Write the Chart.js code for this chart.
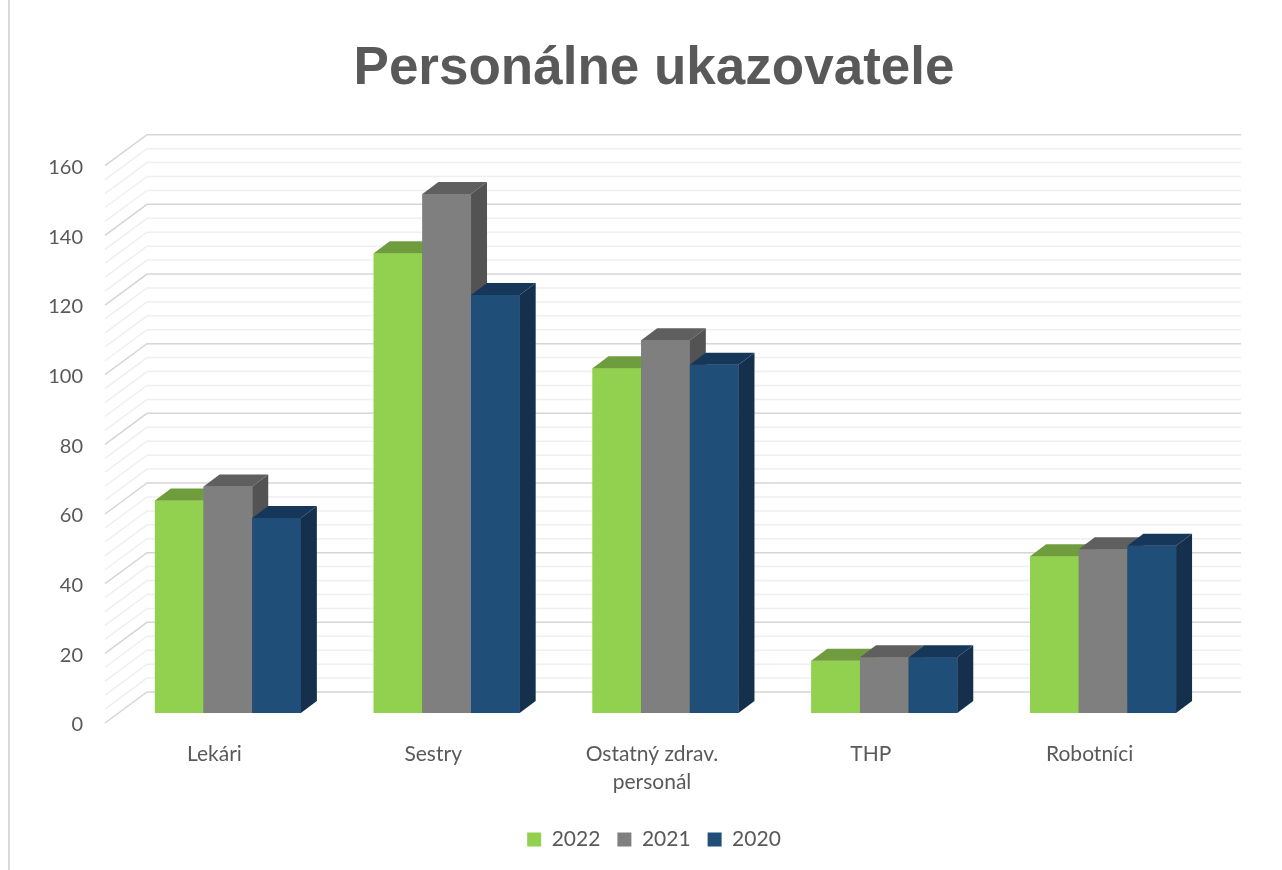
<!DOCTYPE html>
<html>
<head>
<meta charset="utf-8">
<script src="https://cdn.jsdelivr.net/npm/chart.js@4.4.1/dist/chart.umd.min.js"></script>
<style>
  html, body { margin: 0; padding: 0; background: #ffffff; }
  canvas { display: block; }
</style>
</head>
<body>
<canvas id="c" width="1282" height="870"></canvas>
<script>
// ---- data ----
const categories = ['Lekári', 'Sestry', ['Ostatný zdrav.', 'personál'], 'THP', 'Robotníci'];
const seriesNames = ['2022', '2021', '2020'];
const values2022 = [61, 132, 99, 15, 45];
const values2021 = [65, 149, 107, 16, 47];
const values2020 = [56, 120, 100, 16, 48];
const yTickValues = [0, 20, 40, 60, 80, 100, 120, 140, 160];
const titleText = 'Personálne ukazovatele';

// ---- styles ----
const frontColors = ['#92D050', '#7F7F7F', '#1F4E79'];
const topColors   = ['#6F9D3D', '#5F5F5F', '#17375A'];
const sideColors  = ['#5F8A33', '#535353', '#15304D'];
const textColor = '#595959';
const bodyFont = 'Lato, "Open Sans", sans-serif';

// 3D geometry (pixels)
const BAR_DX = 16, BAR_DY = -12;        // bar depth
const WALL_DX = 28.5, WALL_DY = -21;    // back wall relative to bar front plane
const EDGE_DX = -13.5, EDGE_DY = 10;    // front edge relative to bar front plane
const GRID_MINOR = 4, GRID_MAJOR = 20;

const walls3d = {
  id: 'walls3d',
  beforeDraw(chart) {
    const ctx = chart.ctx;
    ctx.save();
    ctx.fillStyle = '#d9d9d9';
    ctx.fillRect(8, 0, 2, chart.height);
    ctx.restore();
  },
  beforeDatasetsDraw(chart) {
    const ctx = chart.ctx;
    const ys = chart.scales.y;
    const {left, right} = chart.chartArea;
    ctx.save();
    ctx.lineWidth = 1.5;
    const max = ys.max;
    for (let v = 0; v <= max + 1e-9; v += GRID_MINOR) {
      const y = ys.getPixelForValue(v);
      const major = Math.abs(v % GRID_MAJOR) < 1e-9;
      ctx.strokeStyle = major ? '#d6d6d6' : '#efefef';
      ctx.beginPath();
      ctx.moveTo(left + EDGE_DX, y + EDGE_DY);
      ctx.lineTo(left + WALL_DX, y + WALL_DY);
      ctx.lineTo(right + WALL_DX, y + WALL_DY);
      ctx.stroke();
    }
    ctx.restore();
  },
  afterDatasetsDraw(chart) {
    const ctx = chart.ctx;
    const metas = chart.data.datasets.map((d, i) => chart.getDatasetMeta(i));
    const n = chart.data.labels.length;
    ctx.save();
    for (let i = 0; i < n; i++) {
      metas.forEach((meta, d) => {
        const el = meta.data[i];
        if (!el) return;
        const p = el.getProps(['x', 'y', 'base', 'width'], true);
        const l = p.x - p.width / 2, r = p.x + p.width / 2;
        const top = Math.min(p.y, p.base), bot = Math.max(p.y, p.base);
        // front face (library element)
        el.draw(ctx);
        // top face
        ctx.fillStyle = topColors[d];
        ctx.beginPath();
        ctx.moveTo(l, top);
        ctx.lineTo(r, top);
        ctx.lineTo(r + BAR_DX, top + BAR_DY);
        ctx.lineTo(l + BAR_DX, top + BAR_DY);
        ctx.closePath();
        ctx.fill();
        // side face
        ctx.fillStyle = sideColors[d];
        ctx.beginPath();
        ctx.moveTo(r, top);
        ctx.lineTo(r, bot);
        ctx.lineTo(r + BAR_DX, bot + BAR_DY);
        ctx.lineTo(r + BAR_DX, top + BAR_DY);
        ctx.closePath();
        ctx.fill();
      });
    }
    ctx.restore();
  }
};

const seriesValues = [values2022, values2021, values2020];

new Chart(document.getElementById('c'), {
  type: 'bar',
  data: {
    labels: categories,
    datasets: seriesNames.map((name, i) => ({
      label: name,
      data: seriesValues[i],
      backgroundColor: frontColors[i],
      borderWidth: 0,
      categoryPercentage: 0.667,
      barPercentage: 1.0
    }))
  },
  options: {
    responsive: false,
    animation: false,
    events: [],
    layout: { padding: { left: 26, right: 0, top: 0, bottom: 10 } },
    plugins: {
      title: {
        display: true,
        text: titleText,
        color: textColor,
        font: { family: '"Liberation Sans", Arial, sans-serif', size: 53, weight: 'bold', lineHeight: 1.2 },
        padding: { top: 38, bottom: 54.1 }
      },
      legend: {
        display: true,
        position: 'bottom',
        labels: {
          boxWidth: 14,
          boxHeight: 14,
          padding: 17,
          color: textColor,
          font: { family: bodyFont, size: 21 }
        }
      },
      tooltip: { enabled: false }
    },
    scales: {
      x: {
        type: 'category',
        grid: { display: false, drawTicks: false },
        border: { display: false },
        ticks: {
          color: textColor,
          font: { family: bodyFont, size: 21, lineHeight: 1.35 },
          padding: 27,
          labelOffset: EDGE_DX,
          maxRotation: 0,
          autoSkip: false
        },
        afterFit(s) { s.height = 99; }
      },
      y: {
        position: 'left',
        min: 0,
        max: 160,
        grid: { display: false, drawTicks: false },
        border: { display: false },
        ticks: {
          color: textColor,
          font: { family: bodyFont, size: 20 },
          padding: 35.5,
          labelOffset: 12
        },
        afterBuildTicks(s) { s.ticks = yTickValues.map(v => ({ value: v })); },
        afterFit(s) { s.width = 92.5; }
      },
      y2: {
        position: 'right',
        min: 0,
        max: 160,
        grid: { display: false, drawTicks: false },
        border: { display: false },
        ticks: { display: false },
        afterFit(s) { s.width = 69.5; }
      }
    }
  },
  plugins: [walls3d]
});
</script>
</body>
</html>
